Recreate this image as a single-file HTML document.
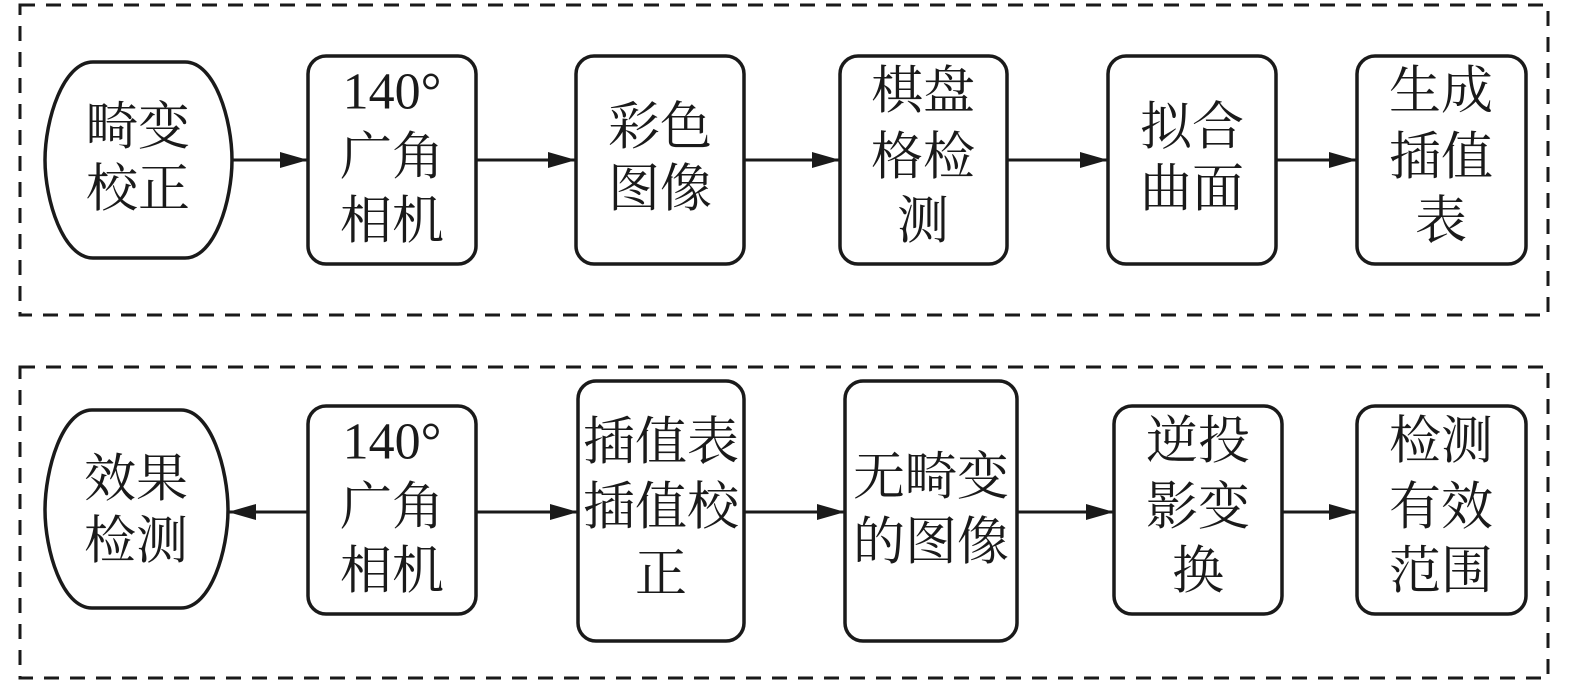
<!DOCTYPE html>
<html><head><meta charset="utf-8"><style>
html,body{margin:0;padding:0;background:#fff;}
svg{display:block}
text{font-family:"Liberation Serif","Noto Serif CJK SC",serif;font-size:52px;fill:#1a1a1a;text-anchor:middle;dominant-baseline:central}
</style></head><body>
<svg width="1575" height="684" viewBox="0 0 1575 684" xmlns="http://www.w3.org/2000/svg">
<defs><marker id="a" markerWidth="10" markerHeight="8" refX="10" refY="4" orient="auto" markerUnits="userSpaceOnUse" viewBox="0 0 10 8"><path d="M0,0 L10,4 L0,8Z" fill="#1a1a1a" transform="scale(1)"/></marker>
<marker id="b" markerWidth="28" markerHeight="16" refX="28" refY="8" orient="auto" markerUnits="userSpaceOnUse"><path d="M0,0 L28,8 L0,16Z" fill="#1a1a1a"/></marker></defs>
<g fill="none" stroke="#1a1a1a" stroke-width="3" stroke-dasharray="15 11">
<rect x="20" y="5" width="1528" height="310"/>
<rect x="20" y="367" width="1528" height="311"/>
</g>
<g fill="#fff" stroke="#1a1a1a" stroke-width="3.5">
<path d="M93,62 L185,62 C215,62 232,120 232,160 C232,200 215,258 185,258 L93,258 C63,258 45,200 45,160 C45,120 63,62 93,62Z"/>
<rect x="308" y="56" width="168" height="208" rx="18"/>
<rect x="576" y="56" width="168" height="208" rx="18"/>
<rect x="840" y="56" width="167" height="208" rx="18"/>
<rect x="1108" y="56" width="168" height="208" rx="18"/>
<rect x="1357" y="56" width="169" height="208" rx="18"/>
<path d="M92,410 L181,410 C211,410 228,470 228,510 C228,550 211,608 181,608 L92,608 C62,608 45,550 45,510 C45,470 62,410 92,410Z"/>
<rect x="308" y="406" width="168" height="208" rx="18"/>
<rect x="578" y="381" width="166" height="260" rx="18"/>
<rect x="845" y="381" width="172" height="260" rx="18"/>
<rect x="1114" y="406" width="168" height="208" rx="18"/>
<rect x="1357" y="406" width="169" height="208" rx="18"/>
</g>
<g stroke="#1a1a1a" stroke-width="3" marker-end="url(#b)">
<line x1="232" y1="160" x2="308" y2="160"/>
<line x1="476" y1="160" x2="576" y2="160"/>
<line x1="744" y1="160" x2="840" y2="160"/>
<line x1="1007" y1="160" x2="1108" y2="160"/>
<line x1="1276" y1="160" x2="1357" y2="160"/>
<line x1="308" y1="512" x2="228" y2="512"/>
<line x1="476" y1="512" x2="578" y2="512"/>
<line x1="744" y1="512" x2="845" y2="512"/>
<line x1="1017" y1="512" x2="1114" y2="512"/>
<line x1="1282" y1="512" x2="1357" y2="512"/>
</g>
<text x="138" y="128">畸变</text><text x="138" y="190">校正</text>
<text x="392" y="92">140°</text><text x="392" y="158">广角</text><text x="392" y="222">相机</text>
<text x="660" y="128">彩色</text><text x="660" y="190">图像</text>
<text x="923" y="92">棋盘</text><text x="923" y="158">格检</text><text x="923" y="222">测</text>
<text x="1192" y="128">拟合</text><text x="1192" y="190">曲面</text>
<text x="1441" y="92">生成</text><text x="1441" y="158">插值</text><text x="1441" y="222">表</text>
<text x="136" y="480">效果</text><text x="136" y="542">检测</text>
<text x="392" y="442">140°</text><text x="392" y="508">广角</text><text x="392" y="572">相机</text>
<text x="661" y="443">插值表</text><text x="661" y="508">插值校</text><text x="661" y="575">正</text>
<text x="931" y="478">无畸变</text><text x="931" y="543">的图像</text>
<text x="1198" y="442">逆投</text><text x="1198" y="508">影变</text><text x="1198" y="572">换</text>
<text x="1441" y="442">检测</text><text x="1441" y="508">有效</text><text x="1441" y="572">范围</text>
</svg>
</body></html>
